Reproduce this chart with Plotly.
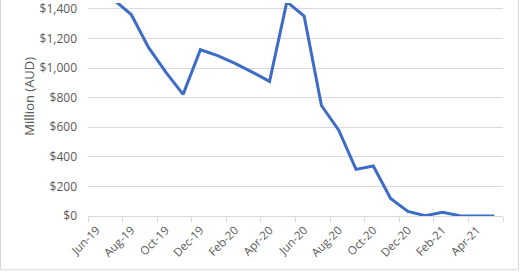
import plotly.graph_objects as go

months = ["Jun-19", "Jul-19", "Aug-19", "Sep-19", "Oct-19", "Nov-19", "Dec-19", "Jan-20",
          "Feb-20", "Mar-20", "Apr-20", "May-20", "Jun-20", "Jul-20", "Aug-20", "Sep-20",
          "Oct-20", "Nov-20", "Dec-20", "Jan-21", "Feb-21", "Mar-21", "Apr-21", "May-21"]
values = [1560, 1458, 1362, 1140, 973, 822, 1124, 1084,
          1032, 973, 910, 1448, 1351, 747, 580, 315,
          338, 118, 31, 2, 25, 2, 0, 0]
label_months = months[::2]
y_ticks = [0, 200, 400, 600, 800, 1000, 1200, 1400]
y_tick_text = ["$0", "$200", "$400", "$600", "$800", "$1,000", "$1,200", "$1,400"]
# category boundaries for tick marks (every second category)
boundary_vals = [i - 0.5 for i in range(0, len(months) + 1, 2)]

W, H = 520, 272
L, R, T, B = 88, 17, 0, 56
pw, ph = W - L - R, H - T - B

fig = go.Figure()
fig.add_trace(go.Scatter(x=months, y=values, mode="lines",
                         line=dict(color="#3D6CC6", width=3),
                         hoverinfo="skip", showlegend=False, cliponaxis=True))
# invisible trace to keep the boundary-tick axis alive
fig.add_trace(go.Scatter(x=[boundary_vals[0], boundary_vals[-1]], y=[0, 0], xaxis="x2",
                         mode="markers", marker=dict(opacity=0), hoverinfo="skip",
                         showlegend=False))

grey = "#595959"
fig.update_layout(
    width=W, height=H,
    margin=dict(l=L, r=R, t=T, b=B, pad=0),
    paper_bgcolor="white", plot_bgcolor="white",
    font=dict(family="Open Sans", size=12, color=grey),
    xaxis=dict(type="category", categoryorder="array", categoryarray=months,
               range=[-0.5, len(months) - 0.5],
               tickmode="array", tickvals=label_months, ticktext=label_months,
               tickangle=-45, ticks="", showgrid=False, zeroline=False,
               showline=True, linecolor="#D9D9D9", linewidth=1,
               ticklabelstandoff=2,
               tickfont=dict(family="Open Sans", size=11.5, color=grey)),
    xaxis2=dict(overlaying="x", side="bottom", anchor="y",
                range=[-0.5, len(months) - 0.5],
                tickmode="array", tickvals=boundary_vals, ticks="outside",
                ticklen=5, tickcolor="#D9D9D9", tickwidth=1,
                showticklabels=False, showgrid=False, zeroline=False, showline=False),
    yaxis=dict(range=[0, 1440], tickmode="array", tickvals=y_ticks, ticktext=y_tick_text,
               showgrid=True, gridcolor="#D9D9D9", gridwidth=1, zeroline=False,
               ticks="", ticklabelstandoff=10, ticklabeloverflow="allow",
               tickfont=dict(family="Open Sans", size=12, color=grey)),
    annotations=[dict(text="Million (AUD)", textangle=-90, xref="paper", yref="paper",
                      x=(29 - L) / pw, y=(216 - 95) / ph, xanchor="center", yanchor="middle",
                      showarrow=False, font=dict(family="Open Sans", size=13, color=grey))],
    shapes=[dict(type="rect", xref="paper", yref="paper",
                 x0=(0.5 - L) / pw, x1=(518.5 - L) / pw,
                 y0=(216 - 270.5) / ph, y1=1.2,
                 line=dict(color="#D9D9D9", width=1), layer="below")],
)

fig.write_html("out.html")
